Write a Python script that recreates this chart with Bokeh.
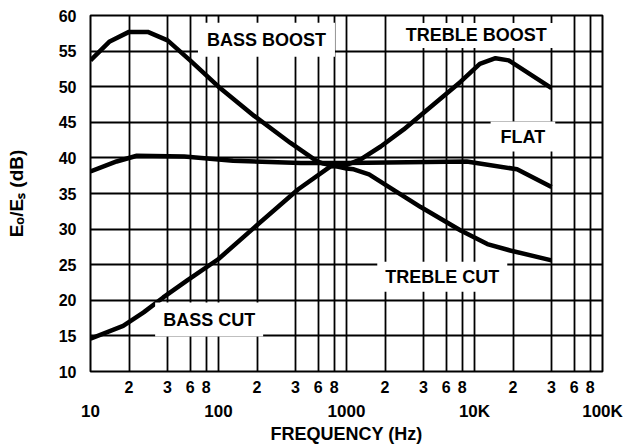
from bokeh.plotting import figure
from bokeh.models import Range1d, FixedTicker, LogAxis, Label
from bokeh.embed import file_html
from bokeh.resources import INLINE

# ---- data ----
flat_freq = [10, 16, 23, 54, 130, 440, 1000, 3000, 8700, 21500, 40000]
flat_db = [38.1, 39.5, 40.3, 40.2, 39.6, 39.3, 39.3, 39.4, 39.5, 38.4, 35.9]

bassboost_treblecut_freq = [10, 14, 20, 28, 40, 60, 100, 190, 365, 590, 660, 1000,
                            1140, 1500, 3800, 7800, 12600, 19000, 40000]
bassboost_treblecut_db = [53.7, 56.3, 57.7, 57.7, 56.5, 53.7, 50.0, 45.9, 42.1, 39.5,
                          39.2, 38.5, 38.4, 37.7, 33.1, 29.8, 27.9, 27.0, 25.6]

basscut_trebleboost_freq = [10, 18, 26, 37, 57, 100, 190, 420, 750, 1000, 1290, 1850,
                            2800, 3800, 7800, 11000, 14600, 18500, 40000]
basscut_trebleboost_db = [14.6, 16.4, 18.3, 20.4, 22.8, 25.8, 30.2, 35.6, 38.8, 39.0,
                          39.8, 41.6, 44.0, 46.0, 50.7, 53.2, 54.0, 53.7, 49.8]

decade_ticks = [10, 100, 1000, 10000, 100000]
decade_labels = ["10", "100", "1000", "10K", "100K"]
minor_ticks = [20, 40, 60, 80, 200, 400, 600, 800, 2000, 4000, 6000, 8000,
               20000, 40000, 60000, 80000]
minor_labels = ["2", "3", "6", "8"] * 4
y_ticks = [10, 15, 20, 25, 30, 35, 40, 45, 50, 55, 60]

curve_labels = [
    ("BASS BOOST", 237, 56.6, dict(left=9, right=9, top=7, bottom=7)),
    ("TREBLE BOOST", 10300, 57.2, dict(left=9, right=9, top=2, bottom=3)),
    ("FLAT", 23900, 43.0, dict(left=10, right=10, top=5, bottom=5)),
    ("TREBLE CUT", 5600, 23.3, dict(left=8, right=8, top=5, bottom=5)),
    ("BASS CUT", 84.5, 17.3, dict(left=8, right=8, top=7, bottom=7)),
]

FONT = "Liberation Sans"

p = figure(width=626, height=446, x_axis_type="log", title=None,
           x_range=Range1d(10, 100000), y_range=Range1d(10, 60),
           output_backend="svg", toolbar_location=None,
           min_border_left=90, min_border_right=24, min_border_top=15,
           min_border_bottom=73)

p.outline_line_color = "black"
p.outline_line_width = 2
p.background_fill_color = "white"

# grid
p.xgrid.ticker = FixedTicker(ticks=sorted(decade_ticks + minor_ticks))
p.ygrid.ticker = FixedTicker(ticks=y_ticks)
for g in (p.xgrid, p.ygrid):
    g.grid_line_color = "black"
    g.grid_line_width = 1.8
    g.grid_line_alpha = 1.0

# first x axis: in-decade labels
ax1 = p.below[0]
ax1.ticker = FixedTicker(ticks=minor_ticks, minor_ticks=[])
ax1.major_label_overrides = {t: l for t, l in zip(minor_ticks, minor_labels)}
ax1.axis_line_color = None
ax1.major_tick_line_color = None
ax1.minor_tick_line_color = None
ax1.major_label_text_font = FONT
ax1.major_label_text_font_style = "bold"
ax1.major_label_text_font_size = "16px"
ax1.major_label_text_color = "black"
ax1.major_label_standoff = 3

# second x axis: decades + title
ax2 = LogAxis(ticker=FixedTicker(ticks=decade_ticks, minor_ticks=[]),
              major_label_overrides={t: l for t, l in zip(decade_ticks, decade_labels)},
              axis_label="FREQUENCY (Hz)")
ax2.axis_line_color = None
ax2.major_tick_line_color = None
ax2.minor_tick_line_color = None
ax2.major_label_text_font = FONT
ax2.major_label_text_font_style = "bold"
ax2.major_label_text_font_size = "17px"
ax2.major_label_text_color = "black"
ax2.major_label_standoff = 0
ax2.axis_label_text_font = FONT
ax2.axis_label_text_font_style = "bold"
ax2.axis_label_text_font_size = "18px"
ax2.axis_label_text_color = "black"
ax2.axis_label_standoff = 0
p.add_layout(ax2, "below")

# y axis
ya = p.yaxis[0]
ya.ticker = FixedTicker(ticks=y_ticks, minor_ticks=[])
ya.axis_line_color = None
ya.major_tick_line_color = None
ya.minor_tick_line_color = None
ya.major_label_text_font = FONT
ya.major_label_text_font_style = "bold"
ya.major_label_text_font_size = "16px"
ya.major_label_text_color = "black"
ya.major_label_standoff = 8
ya.axis_label = "E\u2092/E\u209b (dB)"
ya.axis_label_text_font = FONT
ya.axis_label_text_font_style = "bold"
ya.axis_label_text_font_size = "19px"
ya.axis_label_text_color = "black"
ya.axis_label_standoff = 29

# curves
for fx, dy in ((flat_freq, flat_db),
               (bassboost_treblecut_freq, bassboost_treblecut_db),
               (basscut_trebleboost_freq, basscut_trebleboost_db)):
    p.line(fx, dy, line_color="black", line_width=4.5, line_join="round")

# curve labels with white boxes
for txt, x, y, pad in curve_labels:
    p.add_layout(Label(x=x, y=y, text=txt, text_font=FONT, text_font_style="bold",
                       text_font_size="18px", text_color="black",
                       text_align="center", text_baseline="middle",
                       background_fill_color="white", padding=pad))

open("out.html", "w").write(file_html(p, INLINE))
